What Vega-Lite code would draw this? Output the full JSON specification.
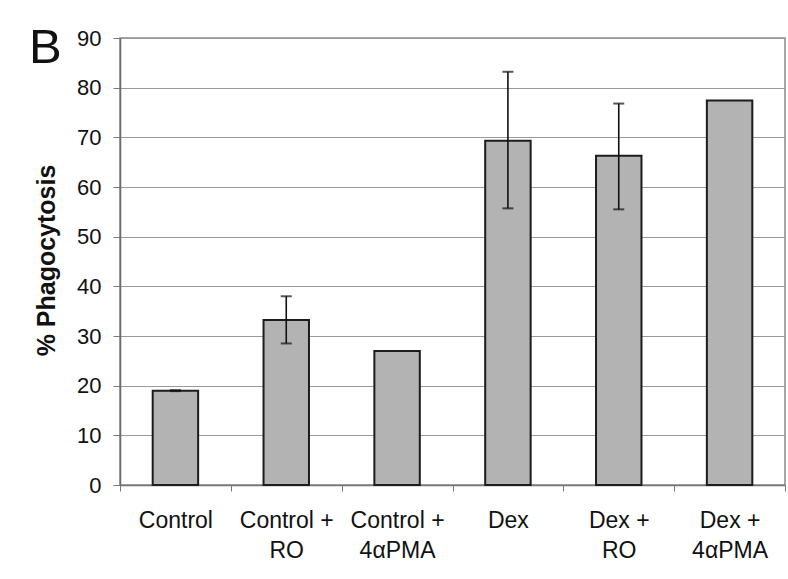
{
  "$schema": "https://vega.github.io/schema/vega-lite/v6.json",
  "width": 665,
  "height": 447,
  "autosize": {"type": "none"},
  "padding": {"left": 120, "top": 38, "right": 3, "bottom": 94},
  "background": "white",
  "title": {
    "text": "B",
    "anchor": "start",
    "frame": "group",
    "orient": "top",
    "font": "Liberation Sans",
    "fontSize": 49,
    "fontWeight": "normal",
    "color": "#111111",
    "baseline": "alphabetic",
    "offset": 0,
    "dx": -91,
    "dy": 85
  },
  "config": {
    "view": {"stroke": "#8a8a8a", "strokeWidth": 1.5},
    "font": "Liberation Sans"
  },
  "datasets": {
    "bars": [
      {"treatment": "Control", "phago": 19.0},
      {"treatment": "Control + RO", "phago": 33.2},
      {"treatment": "Control + 4αPMA", "phago": 27.0},
      {"treatment": "Dex", "phago": 69.3},
      {"treatment": "Dex + RO", "phago": 66.3},
      {"treatment": "Dex + 4αPMA", "phago": 77.4}
    ],
    "errors": [
      {"treatment": "Control", "low": 18.9, "high": 19.1},
      {"treatment": "Control + RO", "low": 28.5, "high": 38.0},
      {"treatment": "Dex", "low": 55.7, "high": 83.2},
      {"treatment": "Dex + RO", "low": 55.5, "high": 76.8}
    ]
  },
  "encoding": {
    "x": {
      "field": "treatment",
      "type": "nominal",
      "sort": ["Control", "Control + RO", "Control + 4αPMA", "Dex", "Dex + RO", "Dex + 4αPMA"],
      "scale": {"paddingInner": 0, "paddingOuter": 0},
      "axis": {
        "title": null,
        "labelAngle": 0,
        "labelFont": "Liberation Sans",
        "labelFontSize": 23,
        "labelColor": "#111111",
        "labelLineHeight": 30,
        "labelPadding": 18,
        "labelExpr": "indexof(datum.label, '+') > 0 ? [slice(datum.label, 0, indexof(datum.label, '+') + 1), slice(datum.label, indexof(datum.label, '+') + 2)] : datum.label",
        "tickBand": "extent",
        "tickSize": 6,
        "tickColor": "#777777",
        "domainColor": "#777777",
        "domainWidth": 1.5,
        "grid": false
      }
    }
  },
  "layer": [
    {
      "data": {"name": "bars"},
      "mark": {"type": "bar", "width": {"band": 0.41}, "fill": "#b3b3b3", "stroke": "#1c1c1c", "strokeWidth": 2},
      "encoding": {
        "y": {
          "field": "phago",
          "type": "quantitative",
          "scale": {"domain": [0, 90], "nice": false},
          "axis": {
            "title": "% Phagocytosis",
            "titleFont": "Liberation Sans",
            "titleFontSize": 25,
            "titleFontWeight": "bold",
            "titleColor": "#111111",
            "titleX": -74,
            "titleY": 222,
            "titleAlign": "center",
            "titleBaseline": "middle",
            "values": [0, 10, 20, 30, 40, 50, 60, 70, 80, 90],
            "labelFont": "Liberation Sans",
            "labelFontSize": 22,
            "labelColor": "#111111",
            "labelPadding": 12,
            "tickSize": 7,
            "tickColor": "#777777",
            "domainColor": "#6a6a6a",
            "domainWidth": 1.5,
            "grid": true,
            "gridColor": "#9a9a9a",
            "gridWidth": 1
          }
        }
      }
    },
    {
      "data": {"name": "errors"},
      "mark": {"type": "rule", "color": "#111111", "strokeWidth": 1.6},
      "encoding": {
        "y": {"field": "low", "type": "quantitative"},
        "y2": {"field": "high"}
      }
    },
    {
      "data": {"name": "errors"},
      "mark": {"type": "tick", "color": "#111111", "size": 11, "thickness": 2},
      "encoding": {
        "y": {"field": "low", "type": "quantitative"}
      }
    },
    {
      "data": {"name": "errors"},
      "mark": {"type": "tick", "color": "#111111", "size": 11, "thickness": 2},
      "encoding": {
        "y": {"field": "high", "type": "quantitative"}
      }
    }
  ]
}
